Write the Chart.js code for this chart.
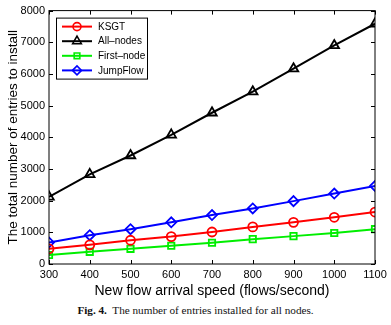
<!DOCTYPE html>
<html>
<head>
<meta charset="utf-8">
<script src="https://cdn.jsdelivr.net/npm/chart.js@4.4.1/dist/chart.umd.min.js"></script>
<style>
  html, body { margin: 0; padding: 0; background: #fff; }
  #wrap { position: relative; width: 391px; height: 325px; }
  #chart { position: absolute; left: 0; top: 0; }
  #caption {
    position: absolute; left: 0; width: 391px; top: 304px; text-align: center;
    font-family: "Liberation Serif", "DejaVu Serif", serif; font-size: 11.2px; color: #111;
  }
</style>
</head>
<body>
<div id="wrap">
  <canvas id="chart" width="391" height="300"></canvas>
  <div id="caption"><b>Fig. 4.</b>&nbsp; The number of entries installed for all nodes.</div>
</div>
<script>
// Datos
const speeds = [300, 400, 500, 600, 700, 800, 900, 1000, 1100];
const ksgt = [480, 605, 750, 865, 1010, 1170, 1315, 1475, 1640];
const allNodes = [2120, 2830, 3425, 4075, 4775, 5440, 6165, 6900, 7585];
const firstNode = [285, 385, 480, 575, 670, 785, 880, 980, 1100];
const jumpFlow = [680, 910, 1100, 1315, 1545, 1755, 1985, 2225, 2465];
const yTicks = [0, 1000, 2000, 3000, 4000, 5000, 6000, 7000, 8000];

const font = '"Liberation Sans", Arial, sans-serif';

function serie(label, values, color, shape, size) {
    return {
        label: label,
        data: speeds.map((s, i) => ({ x: s, y: values[i] })),
        borderColor: color,
        backgroundColor: 'rgba(255,255,255,0)',
        borderWidth: 2,
        pointStyle: shape,
        pointRadius: size,
        pointBorderWidth: 1.8,
        pointBorderColor: color,
        fill: false,
        tension: 0
    };
}

// Marco y marcas hacia adentro, estilo MATLAB
const boxPlugin = {
    id: 'box',
    afterDraw(chart) {
        const { ctx, chartArea: a, scales } = chart;
        ctx.save();
        ctx.strokeStyle = '#000';
        ctx.lineWidth = 1;
        ctx.strokeRect(a.left, a.top, a.right - a.left, a.bottom - a.top);
        ctx.beginPath();
        yTicks.forEach(v => {
            const y = Math.round(scales.y.getPixelForValue(v)) + 0.5;
            ctx.moveTo(a.left, y); ctx.lineTo(a.left + 4, y);
            ctx.moveTo(a.right, y); ctx.lineTo(a.right - 4, y);
        });
        speeds.forEach(v => {
            const x = Math.round(scales.x.getPixelForValue(v)) + 0.5;
            ctx.moveTo(x, a.bottom); ctx.lineTo(x, a.bottom - 4);
            ctx.moveTo(x, a.top); ctx.lineTo(x, a.top + 4);
        });
        ctx.stroke();
        ctx.restore();
    }
};

// Leyenda dentro del gráfico
const legendPlugin = {
    id: 'insideLegend',
    afterDraw(chart) {
        const { ctx, chartArea: a } = chart;
        const x0 = a.left + 7, y0 = a.top + 7, w = 91, h = 61;
        ctx.save();
        ctx.fillStyle = '#fff';
        ctx.fillRect(x0, y0, w, h);
        ctx.strokeStyle = '#000';
        ctx.lineWidth = 1;
        ctx.strokeRect(x0 + 0.5, y0 + 0.5, w, h);
        ctx.font = '10px ' + font;
        ctx.textBaseline = 'middle';
        chart.data.datasets.forEach((ds, i) => {
            const y = y0 + 9 + i * 14.6;
            ctx.strokeStyle = ds.borderColor;
            ctx.lineWidth = 2;
            ctx.beginPath();
            ctx.moveTo(x0 + 6, y); ctx.lineTo(x0 + 36, y);
            ctx.stroke();
            ctx.lineWidth = 1.6;
            ctx.fillStyle = 'rgba(255,255,255,0)';
            Chart.helpers.drawPoint(ctx, { pointStyle: ds.pointStyle, radius: ds.pointRadius - 0.5, rotation: 0, borderWidth: 1.6 }, x0 + 21, y);
            ctx.fillStyle = '#000';
            ctx.fillText(ds.label, x0 + 42, y + 0.5);
        });
        ctx.restore();
    }
};

new Chart(document.getElementById('chart'), {
    type: 'line',
    data: {
        datasets: [
            serie('KSGT', ksgt, '#ff0000', 'circle', 4.5),
            serie('All\u2013nodes', allNodes, '#000000', 'triangle', 5.5),
            serie('First\u2013node', firstNode, '#00ee00', 'rect', 4.5),
            serie('JumpFlow', jumpFlow, '#0000ff', 'rectRot', 5)
        ]
    },
    options: {
        responsive: false,
        animation: false,
        layout: { padding: { top: 9, right: 16, left: 5, bottom: 0 } },
        plugins: { legend: { display: false }, tooltip: { enabled: false } },
        scales: {
            x: {
                type: 'linear',
                min: 300, max: 1100,
                afterFit(scale) { scale.height = 36; },
                grid: { display: false, drawTicks: false },
                border: { display: false },
                ticks: {
                    stepSize: 100, color: '#000', padding: 4,
                    maxRotation: 0, autoSkip: false,
                    callback: v => String(v),
                    font: { family: font, size: 11 }
                },
                title: {
                    display: true, text: 'New flow arrival speed (flows/second)',
                    color: '#000', padding: { top: 0, bottom: 0 },
                    font: { family: font, size: 14 }
                }
            },
            y: {
                min: 0, max: 8000,
                afterFit(scale) { scale.width = 44; },
                grid: { display: false, drawTicks: false },
                border: { display: false },
                ticks: {
                    stepSize: 1000, color: '#000', padding: 4,
                    callback: v => String(v),
                    font: { family: font, size: 11 }
                },
                title: {
                    display: true, text: 'The total number of entries to install',
                    color: '#000', padding: { top: 0, bottom: 0 },
                    font: { family: font, size: 13.5 }
                }
            }
        }
    },
    plugins: [boxPlugin, legendPlugin]
});
</script>
</body>
</html>
